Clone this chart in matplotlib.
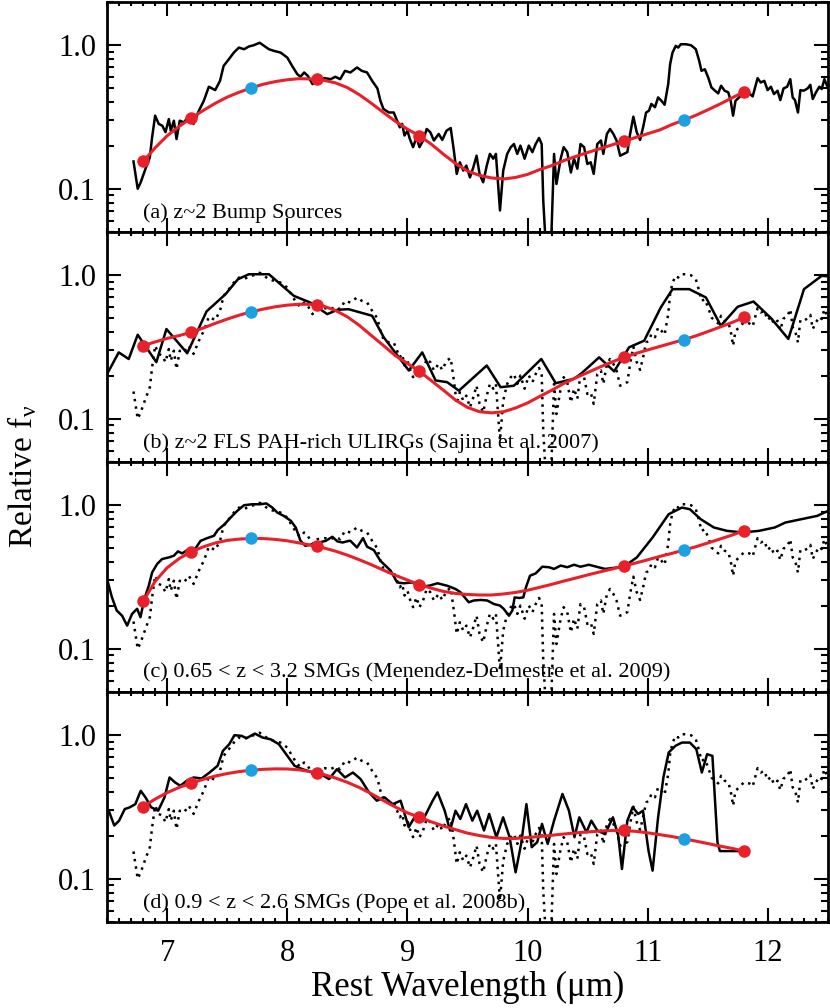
import numpy as np
import matplotlib
matplotlib.use("Agg")
import matplotlib.pyplot as plt
from matplotlib.ticker import FixedLocator, NullFormatter, MultipleLocator, LogLocator

plt.rcParams["font.family"] = ["Liberation Serif", "DejaVu Serif"]
plt.rcParams["mathtext.fontset"] = "stix"

# z~2 bump sources composite (solid in a, dotted in b-d)
wave_bump = [6.72, 6.755, 6.78, 6.82, 6.856, 6.875, 6.90, 6.93, 6.96, 6.986, 7.014, 7.03, 7.056,
             7.078, 7.105, 7.14, 7.18, 7.22, 7.264, 7.305, 7.347, 7.375, 7.40, 7.44, 7.47, 7.514,
             7.555, 7.597, 7.64, 7.68, 7.72, 7.77, 7.806, 7.847, 7.89, 7.944, 8.0, 8.04, 8.083,
             8.11, 8.14, 8.17, 8.21, 8.25, 8.31, 8.36, 8.40, 8.44, 8.48, 8.525, 8.58, 8.62, 8.664,
             8.706, 8.75, 8.775, 8.80, 8.845, 8.886, 8.914, 8.936, 8.956, 8.975, 9.0, 9.02, 9.047,
             9.075, 9.10, 9.13, 9.16, 9.19, 9.22, 9.26, 9.29, 9.325, 9.36, 9.386, 9.41, 9.436,
             9.464, 9.49, 9.52, 9.548, 9.575, 9.60, 9.63, 9.66, 9.686, 9.714, 9.736, 9.77, 9.797,
             9.83, 9.86, 9.886, 9.914, 9.94, 9.975, 10.01, 10.04, 10.067, 10.095, 10.117, 10.13,
             10.16, 10.19, 10.22, 10.24, 10.275, 10.30, 10.33, 10.36, 10.386, 10.414, 10.44,
             10.47, 10.497, 10.525, 10.55, 10.58, 10.61, 10.63, 10.66, 10.686, 10.714, 10.74,
             10.77, 10.80, 10.83, 10.853, 10.88, 10.908, 10.936, 10.964, 10.986, 11.01, 11.03,
             11.06, 11.086, 11.114, 11.14, 11.17, 11.186, 11.206, 11.233, 11.253, 11.275, 11.317,
             11.36, 11.40, 11.428, 11.447, 11.475, 11.503, 11.53, 11.56, 11.586, 11.61, 11.64,
             11.67, 11.69, 11.71, 11.73, 11.76, 11.80, 11.845, 11.873, 11.914, 11.94, 11.97,
             11.997, 12.025, 12.05, 12.08, 12.103, 12.13, 12.16, 12.186, 12.206, 12.225, 12.25,
             12.27, 12.297, 12.33, 12.353, 12.373, 12.40, 12.428, 12.447, 12.47, 12.497]
flux_bump = [0.155, 0.10, 0.111, 0.138, 0.166, 0.229, 0.323, 0.283, 0.275, 0.248, 0.306, 0.254, 0.298,
             0.222, 0.298, 0.29, 0.323, 0.283, 0.35, 0.41, 0.514, 0.50, 0.487, 0.565, 0.718, 0.80,
             0.889, 0.963, 0.938, 0.98, 1.0, 1.04, 0.99, 0.938, 0.913, 0.889, 0.82, 0.718, 0.629,
             0.603, 0.646, 0.613, 0.536, 0.58, 0.59, 0.58, 0.603, 0.58, 0.663, 0.646, 0.70, 0.663, 0.646,
             0.565, 0.50, 0.41, 0.36, 0.34, 0.34, 0.298, 0.268, 0.283, 0.235, 0.254, 0.222, 0.195,
             0.228, 0.195, 0.217, 0.261, 0.248, 0.217, 0.241, 0.219, 0.254, 0.265, 0.185, 0.127, 0.153,
             0.134, 0.145, 0.12, 0.141, 0.17, 0.127, 0.111, 0.145, 0.175, 0.162, 0.175, 0.0707, 0.134,
             0.175, 0.195, 0.205, 0.175, 0.20, 0.162, 0.20, 0.18, 0.205, 0.226, 0.205, 0.083,
             0.03, 0.03, 0.175, 0.108, 0.162, 0.195, 0.18, 0.13, 0.162, 0.138, 0.205,
             0.195, 0.149, 0.153, 0.127, 0.205, 0.217, 0.175, 0.241, 0.261, 0.241, 0.217,
             0.17, 0.175, 0.18, 0.241, 0.318, 0.248, 0.219, 0.275, 0.34, 0.35, 0.39,
             0.37, 0.433, 0.41, 0.385, 0.536, 0.738, 0.889, 0.99, 0.963, 1.016, 1.016,
             1.0, 0.938, 0.778, 0.663, 0.68, 0.596, 0.508, 0.482, 0.462, 0.522, 0.482,
             0.47, 0.41, 0.323, 0.41, 0.433, 0.47, 0.462, 0.44, 0.59, 0.55, 0.565,
             0.487, 0.514, 0.457, 0.482, 0.415, 0.50, 0.514, 0.58, 0.433, 0.415, 0.34,
             0.487, 0.482, 0.50, 0.53, 0.422, 0.47, 0.514, 0.495, 0.58, 0.51]

# Sajina et al. 2007
wave_sajina = [6.5, 6.597, 6.68, 6.755, 6.91, 6.994, 7.167, 7.328, 7.486, 7.589, 7.68, 7.847, 8.055,
               8.19, 8.333, 8.417, 8.51, 8.706, 8.803, 9.011, 9.123, 9.234, 9.33, 9.428, 9.66, 9.775,
               9.886, 10.114, 10.234, 10.386, 10.442, 10.595, 10.72, 10.845, 10.97, 11.108, 11.206,
               11.345, 11.484, 11.608, 11.748, 11.88, 12.025, 12.17, 12.30, 12.447, 12.525]
flux_sajina = [0.205, 0.29, 0.261, 0.385, 0.248, 0.422, 0.286, 0.56, 0.738, 0.938, 1.016, 1.016, 0.718,
               0.646, 0.536, 0.575, 0.58, 0.522, 0.369, 0.217, 0.29, 0.185, 0.18, 0.157, 0.235, 0.166,
               0.17, 0.261, 0.177, 0.19, 0.205, 0.268, 0.214, 0.315, 0.35, 0.596, 0.80,
               0.80, 0.70, 0.445, 0.603, 0.656, 0.503, 0.36, 0.80, 0.99, 0.98]

# Menendez-Delmestre et al. 2009
wave_md = [6.5, 6.54, 6.58, 6.625, 6.667, 6.708, 6.75, 6.778, 6.81, 6.847, 6.875, 6.917, 6.958, 7.014,
           7.056, 7.09, 7.125, 7.18, 7.236, 7.278, 7.333, 7.39, 7.42, 7.478, 7.528, 7.583, 7.64,
           7.708, 7.778, 7.825, 7.875, 7.917, 7.97, 8.03, 8.07, 8.11, 8.15, 8.22, 8.264, 8.32, 8.375,
           8.417, 8.46, 8.514, 8.525, 8.58, 8.63, 8.664, 8.72, 8.775, 8.86, 8.914, 8.97, 9.04, 9.11,
           9.18, 9.25, 9.33, 9.40, 9.44, 9.51, 9.553, 9.61, 9.664, 9.72, 9.77, 9.80, 9.845, 9.873,
           9.892, 9.93, 9.964, 9.986, 10.02, 10.067, 10.122, 10.178, 10.22, 10.275, 10.33, 10.386,
           10.44, 10.51, 10.644, 10.80, 10.909, 11.04, 11.174, 11.284, 11.35, 11.44, 11.55, 11.66,
           11.79, 11.925, 12.057, 12.146, 12.28, 12.41, 12.5]
flux_md = [0.306, 0.229, 0.185, 0.17, 0.145, 0.175, 0.19, 0.166, 0.222, 0.275, 0.34, 0.39, 0.422, 0.433,
           0.445, 0.477, 0.462, 0.495, 0.50, 0.565, 0.59, 0.613, 0.67, 0.738, 0.82, 0.913, 1.0,
           1.016, 1.016, 1.03, 0.963, 0.889, 0.843, 0.778, 0.70, 0.565, 0.522, 0.536, 0.55, 0.565, 0.603,
           0.56, 0.55, 0.565, 0.565, 0.508, 0.59, 0.514, 0.487, 0.41, 0.35, 0.29, 0.286, 0.29, 0.271,
           0.275, 0.286, 0.275, 0.261, 0.248, 0.211, 0.217, 0.219, 0.217, 0.205, 0.20, 0.19, 0.17, 0.185,
           0.228, 0.226, 0.228, 0.268, 0.323, 0.335, 0.373, 0.37, 0.36, 0.38, 0.37, 0.385,
           0.373, 0.385, 0.36, 0.373, 0.433, 0.596, 0.866, 0.963, 0.938, 0.80, 0.70, 0.663,
           0.646, 0.663, 0.70, 0.758, 0.80, 0.843, 0.913]

# Pope et al. 2008b
wave_pope = [6.514, 6.56, 6.60, 6.647, 6.69, 6.735, 6.78, 6.82, 6.867, 6.925, 6.978, 7.02, 7.066, 7.11,
             7.163, 7.22, 7.287, 7.353, 7.42, 7.464, 7.517, 7.56, 7.62, 7.66, 7.73, 7.795, 7.86, 7.93,
             7.99, 8.06, 8.126, 8.215, 8.28, 8.347, 8.413, 8.48, 8.546, 8.61, 8.68, 8.745, 8.81, 8.877,
             8.943, 9.01, 9.076, 9.14, 9.21, 9.25, 9.31, 9.354, 9.40, 9.44, 9.487, 9.54, 9.58, 9.637,
             9.68, 9.74, 9.796, 9.85, 9.90, 9.946, 9.99, 10.034, 10.08, 10.12, 10.167, 10.22, 10.29,
             10.344, 10.39, 10.43, 10.49, 10.53, 10.58, 10.644, 10.71, 10.754, 10.785, 10.83, 10.874,
             10.92, 10.96, 11.006, 11.04, 11.086, 11.13, 11.174, 11.23, 11.284, 11.35, 11.404, 11.45,
             11.494, 11.538, 11.58, 11.60, 11.815]
flux_pope = [0.298, 0.235, 0.254, 0.306, 0.315, 0.331, 0.41, 0.369, 0.315, 0.298, 0.369, 0.508, 0.469, 0.445,
             0.482, 0.508, 0.50, 0.55, 0.613, 0.778, 0.866, 1.0, 0.99, 0.953, 1.027, 0.963, 0.938, 0.866,
             0.738, 0.613, 0.58, 0.55, 0.536, 0.495, 0.58, 0.508, 0.55, 0.495, 0.40, 0.35, 0.369, 0.331,
             0.35, 0.229, 0.283, 0.268, 0.35, 0.40, 0.298, 0.217, 0.298, 0.261, 0.331, 0.254, 0.298, 0.217,
             0.283, 0.195, 0.268, 0.195, 0.111, 0.175, 0.331, 0.166, 0.18, 0.241, 0.175, 0.254, 0.39,
             0.298, 0.195, 0.268, 0.211, 0.254, 0.217, 0.205, 0.268, 0.20, 0.117, 0.254, 0.315,
             0.283, 0.298, 0.157, 0.114, 0.268, 0.508, 0.758, 0.843, 0.889, 0.889, 0.80, 0.55,
             0.738, 0.718, 0.18, 0.156, 0.156]

# continuum fits (red curves), read every 0.1 micron
fit_wave = [6.8, 6.9, 7.0, 7.1, 7.2, 7.3, 7.4, 7.5, 7.6, 7.7, 7.8, 7.9, 8.0, 8.1, 8.2, 8.25, 8.3,
            8.4, 8.5, 8.6, 8.7, 8.8, 8.9, 9.0, 9.1, 9.2, 9.3, 9.4, 9.5, 9.6, 9.7, 9.8, 9.9, 10.0,
            10.1, 10.2, 10.3, 10.4, 10.5, 10.6, 10.7, 10.8, 10.9, 11.0, 11.1, 11.2, 11.3, 11.4,
            11.5, 11.6, 11.7, 11.8]
fit_a = [0.155, 0.193, 0.234, 0.272, 0.311, 0.351, 0.394, 0.435, 0.471, 0.504, 0.535, 0.558, 0.575,
         0.585, 0.582, 0.578, 0.571, 0.547, 0.507, 0.452, 0.394, 0.340, 0.295, 0.260, 0.234, 0.204,
         0.174, 0.150, 0.133, 0.124, 0.119, 0.117, 0.120, 0.126, 0.136, 0.145, 0.157, 0.168, 0.179,
         0.190, 0.202, 0.214, 0.228, 0.242, 0.257, 0.280, 0.301, 0.325, 0.355, 0.389, 0.429, 0.474]
fit_b = [0.323, 0.343, 0.363, 0.380, 0.400, 0.429, 0.462, 0.495, 0.527, 0.556, 0.581, 0.603, 0.619,
         0.628, 0.627, 0.619, 0.610, 0.569, 0.513, 0.447, 0.380, 0.324, 0.275, 0.243, 0.214, 0.184,
         0.158, 0.135, 0.120, 0.112, 0.110, 0.112, 0.119, 0.129, 0.143, 0.158, 0.176, 0.193, 0.210,
         0.229, 0.248, 0.268, 0.285, 0.302, 0.319, 0.337, 0.356, 0.378, 0.405, 0.435, 0.468, 0.508]
fit_c = [0.214, 0.295, 0.367, 0.425, 0.474, 0.513, 0.546, 0.569, 0.581, 0.587, 0.586, 0.578, 0.565,
         0.546, 0.526, 0.516, 0.505, 0.479, 0.449, 0.417, 0.385, 0.353, 0.325, 0.301, 0.280, 0.264,
         0.251, 0.243, 0.239, 0.237, 0.237, 0.241, 0.247, 0.256, 0.268, 0.281, 0.296, 0.311, 0.327,
         0.343, 0.359, 0.377, 0.396, 0.417, 0.440, 0.462, 0.487, 0.514, 0.546, 0.581, 0.619, 0.664]
fit_d = [0.318, 0.359, 0.398, 0.433, 0.464, 0.493, 0.519, 0.541, 0.558, 0.571, 0.579, 0.583, 0.582,
         0.574, 0.556, 0.545, 0.533, 0.504, 0.470, 0.432, 0.391, 0.351, 0.316, 0.288, 0.268, 0.249,
         0.233, 0.220, 0.208, 0.200, 0.194, 0.191, 0.191, 0.194, 0.197, 0.201, 0.205, 0.209, 0.212,
         0.215, 0.217, 0.217, 0.214, 0.209, 0.203, 0.197, 0.190, 0.183, 0.176, 0.169, 0.163, 0.156]
red_wave = [6.8, 7.2, 8.25, 9.1, 10.8, 11.8]
blue_wave = [7.7, 11.3]

labels = ["(a) z~2 Bump Sources",
          "(b) z~2 FLS PAH-rich ULIRGs (Sajina et al. 2007)",
          "(c) 0.65 < z < 3.2 SMGs (Menendez-Delmestre et al. 2009)",
          "(d) 0.9 < z < 2.6 SMGs (Pope et al. 2008b)"]

solids = [(wave_bump, flux_bump), (wave_sajina, flux_sajina), (wave_md, flux_md), (wave_pope, flux_pope)]
fits = [fit_a, fit_b, fit_c, fit_d]

fig, axes = plt.subplots(4, 1, figsize=(8.3, 10.08), dpi=100, sharex=True)
fig.subplots_adjust(left=0.129, right=0.9976, top=0.998, bottom=0.0853, hspace=0)

fw = np.array(fit_wave)
for i, ax in enumerate(axes):
    if i > 0:
        ax.plot(wave_bump, flux_bump, color="black", lw=1.8, linestyle=(0, (1, 2)))
    ax.plot(solids[i][0], solids[i][1], color="black", lw=1.8)
    fv = np.array(fits[i])
    ax.plot(fw, fv, color="#e8202a", lw=2.2, zorder=4)
    mr = np.isin(fw, red_wave)
    mb = np.isin(fw, blue_wave)
    ax.plot(fw[mr], fv[mr], "o", color="#e8202a", ms=9, mec="none", zorder=5)
    ax.plot(fw[mb], fv[mb], "o", color="#1ba1e2", ms=9, mec="none", zorder=5)

    ax.set_yscale("log")
    ax.set_ylim(0.05, 2.0)
    ax.set_xlim(6.5, 12.5)
    ax.yaxis.set_major_locator(FixedLocator([0.1, 1.0]))
    ax.set_yticklabels(["0.1", "1.0"])
    ax.yaxis.set_minor_locator(LogLocator(base=10, subs=np.arange(2, 10)))
    ax.yaxis.set_minor_formatter(NullFormatter())
    ax.xaxis.set_major_locator(MultipleLocator(1))
    ax.xaxis.set_minor_locator(MultipleLocator(0.1))
    ax.tick_params(which="both", direction="in", top=True, right=True, width=1.5)
    ax.tick_params(which="major", length=10, labelsize=22, pad=8)
    ax.tick_params(which="minor", length=5)
    ax.tick_params(axis="x", which="minor", length=3)
    ax.tick_params(axis="x", which="major", pad=12)
    for s in ax.spines.values():
        s.set_linewidth(2)
    ax.text(0.05, 0.083, labels[i], transform=ax.transAxes, fontsize=16, va="center", ha="left")

axes[-1].set_xlabel("Rest Wavelength (\u03bcm)", fontsize=25, labelpad=2)
fig.text(0.027, 0.527, r"Relative f$_\mathregular{\nu}$", rotation=90, fontsize=24, va="center", ha="center")

fig.savefig("out.png", dpi=100)
